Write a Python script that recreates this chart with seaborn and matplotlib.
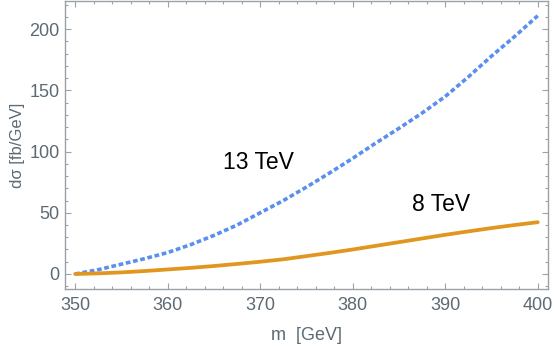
import seaborn as sns
import matplotlib.pyplot as plt
from matplotlib.ticker import MultipleLocator
import pandas as pd

# values
mass = [350, 352.5, 355, 357.5, 360, 362.5, 365, 367.5, 370, 372.5, 375,
        377.5, 380, 382.5, 385, 387.5, 390, 392.5, 395, 397.5, 400]
xsec_13 = [0, 3.5, 8, 12.5, 17.5, 24, 31.5, 40, 50, 60, 71,
           82.5, 94.5, 107, 119, 131.5, 145, 161, 178, 194, 211]
xsec_8 = [0, 0.5, 1.3, 2.4, 3.7, 5, 6.5, 8.2, 10, 12, 14.6,
          17.2, 20, 23, 26, 29, 32, 34.8, 37.5, 40, 42.3]

df = pd.DataFrame({'m': mass, '13 TeV': xsec_13, '8 TeV': xsec_8})

sns.set_style('ticks')
plt.rcParams['font.family'] = ['Liberation Sans', 'DejaVu Sans']

grey = '#5c6a74'
fig = plt.figure(figsize=(5.54, 3.46), dpi=100)
ax = fig.add_axes([0.1173, 0.165, 0.8717, 0.832])

sns.lineplot(x='m', y='13 TeV', data=df, ax=ax, color='#5a8ef0', linewidth=2.6,
             linestyle=(0, (1.3, 0.75)))
sns.lineplot(x='m', y='8 TeV', data=df, ax=ax, color='#e0961f', linewidth=2.7)

ax.set_xlim(348.9, 401.1)
ax.set_ylim(-12.2, 223)
ax.xaxis.set_major_locator(MultipleLocator(10))
ax.xaxis.set_minor_locator(MultipleLocator(2))
ax.yaxis.set_major_locator(MultipleLocator(50))
ax.yaxis.set_minor_locator(MultipleLocator(10))

ax.tick_params(which='both', direction='in', top=True, right=True,
               color='#9aa2a8', labelcolor=grey, labelsize=13, width=0.8)
ax.tick_params(which='major', length=4.5)
ax.tick_params(axis='x', which='major', pad=6)
ax.tick_params(axis='y', which='major', pad=4)
ax.tick_params(which='minor', length=2.3)
for s in ax.spines.values():
    s.set_color('#9aa2a8')
    s.set_linewidth(1.0)

ax.set_xlabel('m  [GeV]', color=grey, fontsize=13, labelpad=9)
ax.set_ylabel('dσ [fb/GeV]', color=grey, fontsize=12, labelpad=3)

ax.text(369.8, 90.8, '13 TeV', fontsize=16.5, ha='center', va='center', color='black')
ax.text(389.6, 56.7, '8 TeV', fontsize=16.5, ha='center', va='center', color='black')

plt.savefig('out.png', dpi=100)
